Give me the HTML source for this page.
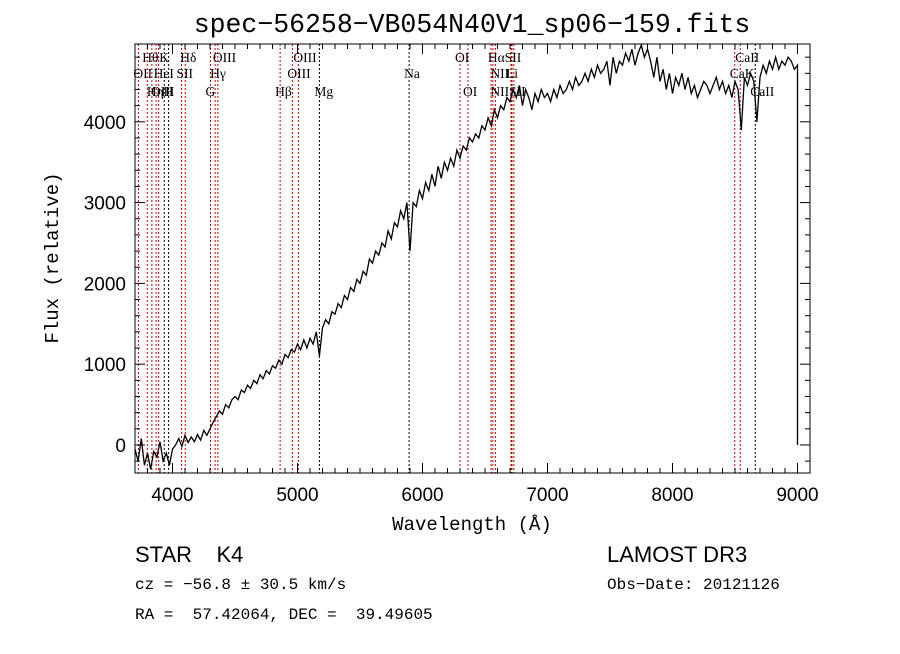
<!DOCTYPE html>
<html><head><meta charset="utf-8"><style>
body{margin:0;background:#fff;}
svg text{font-family:"Liberation Mono",monospace;white-space:pre;}
</style></head><body>
<svg id="c" width="900" height="649" xmlns="http://www.w3.org/2000/svg">
<rect width="900" height="649" fill="#fff"/>
<text x="472" y="32" font-size="26.5" text-anchor="middle">spec−56258−VB054N40V1_sp06−159.fits</text>
<g id="plot"></g>
<text x="472" y="530" font-size="19" text-anchor="middle">Wavelength (Å)</text>
<text transform="translate(58,258) rotate(-90)" font-size="19" text-anchor="middle">Flux (relative)</text>
<text x="135" y="562" font-size="22" xml:space="preserve" style="font-family:'Liberation Sans',sans-serif">STAR    K4</text>
<text x="607" y="562" font-size="22" style="font-family:'Liberation Sans',sans-serif">LAMOST DR3</text>
<text x="135" y="589" font-size="16">cz = −56.8 ± 30.5 km/s</text>
<text x="607" y="589" font-size="16">Obs−Date: 20121126</text>
<text x="135" y="619" font-size="16" xml:space="preserve">RA =  57.42064, DEC =  39.49605</text>
</svg>
<script>
const fluxStart = 3700;
const fluxStep = 25;
const fluxValues = [-50,-200,80,-250,-100,-300,-80,-150,40,-200,-100,-250,-50,0,80,-20,120,30,100,40,130,60,180,120,200,280,350,420,380,500,460,560,600,560,680,650,740,700,800,760,870,820,920,880,980,950,1050,1000,1120,1080,1180,1150,1250,1180,1300,1200,1320,1250,1400,1100,1450,1550,1500,1650,1620,1750,1700,1850,1800,1950,1900,2050,2000,2150,2100,2300,2250,2400,2350,2500,2450,2650,2550,2750,2700,2900,2800,3000,2400,3000,2950,3150,3050,3250,3150,3350,3200,3450,3300,3500,3400,3550,3450,3650,3550,3700,3650,3800,3750,3850,3800,3950,3900,4050,3950,4150,4050,4200,4150,4300,4250,4400,4300,4450,4200,4400,4300,4150,4350,4250,4400,4300,4350,4250,4400,4300,4450,4350,4400,4500,4400,4550,4450,4500,4600,4500,4650,4550,4700,4600,4650,4750,4450,4800,4600,4750,4700,4850,4750,4900,4700,4850,4950,4800,4900,4750,4550,4800,4500,4650,4400,4600,4350,4550,4450,4600,4400,4550,4350,4450,4300,4400,4500,4450,4350,4450,4550,4400,4500,4350,4450,4300,4500,4400,3900,4550,4450,4600,4500,4000,4550,4700,4600,4750,4650,4800,4650,4750,4700,4800,4750,4650,4700];
const lineWaves = [3727,3798,3835,3869,3889,3934,3969,4072,4102,4304,4341,4363,4861,4959,5007,5175,5893,6300,6364,6548,6563,6583,6708,6716,6731,8498,8542,8662];
const lineBlack = [0,0,0,0,0,1,1,0,0,0,0,0,0,0,0,1,1,0,0,0,0,0,0,0,0,0,0,1];
const labelTexts = ["Hθ","K","Hδ","OIII","OIII","OI","HαSII","CaII","OII","HeI","SII","Hγ","OIII","Na","NII","Li","CaK","OIII","Hη","H","G","Hβ","Mg","OI","NIISII","CaII"];
const labelWaves = [3798,3934,4102,4363,5007,6300,6563,8542,3727,3889,4072,4341,4959,5893,6583,6708,8498,3869,3835,3969,4304,4861,5175,6364,6583,8662];
const labelRows = [0,0,0,0,0,0,0,0,1,1,1,1,1,1,1,1,1,2,2,2,2,2,2,2,2,2];
const xTicks = [4000,5000,6000,7000,8000,9000];
const yTicks = [0,1000,2000,3000,4000];

const L=135,R=810,T=44,B=473,xmin=3700,xmax=9100,ymin=-347,ymax=4963;
const X=w=>L+(w-xmin)/(xmax-xmin)*(R-L);
const Y=f=>B-(f-ymin)/(ymax-ymin)*(B-T);
const NS="http://www.w3.org/2000/svg";
const g=document.getElementById('plot');
function mk(t,a){const e=document.createElementNS(NS,t);for(const k in a)e.setAttribute(k,a[k]);g.appendChild(e);return e;}

lineWaves.forEach((w,i)=>{
 const e=mk('line',{x1:X(w),x2:X(w),y1:T,y2:B,stroke:lineBlack[i]?'#000':'#c00000','stroke-width':1,'stroke-dasharray':'2,2'});
 
 
});
const rowY=[62,78,96];
labelTexts.forEach((s,i)=>{
 const e=mk('text',{x:X(labelWaves[i])-5,y:rowY[labelRows[i]],'font-size':13.5,style:"font-family:'Liberation Serif',serif"});
 e.textContent=s;
 
 
});
let d='';
fluxValues.forEach((f,i)=>{d+=(i?'L':'M')+X(fluxStart+i*fluxStep).toFixed(1)+','+Y(f).toFixed(1);});
d+='L'+X(9000).toFixed(1)+','+Y(4000).toFixed(1)+'L'+X(9000).toFixed(1)+','+Y(0).toFixed(1);
const p=mk('path',{d:d,fill:'none',stroke:'#000','stroke-width':1.3});



const fr=mk('rect',{x:L,y:T,width:R-L,height:B-T,fill:'none',stroke:'#000','stroke-width':1});


for(let w=3700;w<=9100;w+=100){
 const len=(w%1000===0)?10:5;
 mk('line',{x1:X(w),x2:X(w),y1:B,y2:B-len,stroke:'#000'});
 mk('line',{x1:X(w),x2:X(w),y1:T,y2:T+len,stroke:'#000'});
}
for(let f=-200;f<=4800;f+=200){
 const len=(f%1000===0)?10:5;
 mk('line',{x1:L,x2:L+len,y1:Y(f),y2:Y(f),stroke:'#000'});
 mk('line',{x1:R,x2:R-len,y1:Y(f),y2:Y(f),stroke:'#000'});
}
xTicks.forEach(v=>{
 const e=mk('text',{x:X(v),y:501,'font-size':19,'text-anchor':'middle',style:"font-family:'Liberation Sans',sans-serif"});
 e.textContent=v;
 
 
});
yTicks.forEach(v=>{
 const e=mk('text',{x:126,y:Y(v)+7,'font-size':19,'text-anchor':'end',style:"font-family:'Liberation Sans',sans-serif"});
 e.textContent=v;
 
 
});
</script>
</body></html>
